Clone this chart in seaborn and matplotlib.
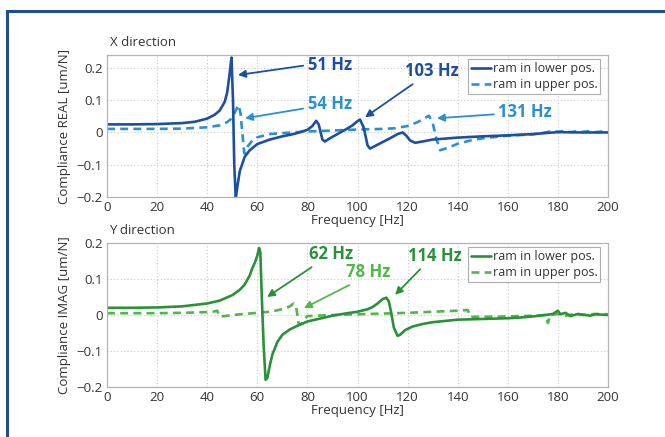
import matplotlib
matplotlib.use("Agg")
import matplotlib.pyplot as plt
import seaborn as sns
import pandas as pd
from matplotlib.patches import Rectangle
from matplotlib.lines import Line2D

# ---------------- data ----------------
x_lower_f = [0, 10, 20, 30, 35, 40, 43, 45, 47, 48, 49, 49.7, 50.3, 50.8, 51.4, 52, 53, 55, 57, 60,
             65, 70, 75, 80, 82, 83.5, 84.5, 86, 87, 89, 92, 95, 98, 100, 101, 102.5, 104, 105, 107,
             110, 113, 116, 118, 119.5, 121, 123, 126, 130, 140, 150, 160, 170, 175, 180, 190, 200]
x_lower_v = [0.025, 0.025, 0.026, 0.029, 0.033, 0.043, 0.055, 0.068, 0.095, 0.125, 0.185, 0.232, 0.10,
             -0.10, -0.205, -0.17, -0.12, -0.075, -0.055, -0.036, -0.022, -0.012, -0.004, 0.008, 0.020,
             0.036, 0.025, -0.022, -0.028, -0.018, -0.005, 0.008, 0.022, 0.035, 0.040, 0.015, -0.040,
             -0.050, -0.042, -0.030, -0.018, -0.005, 0.000, -0.010, -0.025, -0.032, -0.028, -0.022,
             -0.016, -0.012, -0.009, -0.005, -0.002, 0.001, 0.000, 0.000]

x_upper_f = [0, 20, 30, 40, 45, 48, 50, 51.5, 52.5, 53.3, 54, 54.8, 56, 58, 60, 65, 70, 80, 90, 100,
             110, 115, 120, 124, 127, 128.5, 130, 131.5, 133, 136, 140, 145, 150, 160, 170, 175, 178,
             180, 183, 185, 188, 190, 193, 195, 198, 200]
x_upper_v = [0.011, 0.011, 0.012, 0.016, 0.022, 0.032, 0.045, 0.070, 0.085, 0.060, 0.000, -0.065,
             -0.045, -0.025, -0.015, -0.005, -0.002, 0.003, 0.006, 0.009, 0.011, 0.013, 0.020, 0.032,
             0.045, 0.052, 0.030, -0.020, -0.055, -0.048, -0.035, -0.025, -0.018, -0.010, -0.006,
             0.000, 0.005, 0.002, 0.005, 0.001, 0.004, 0.002, 0.004, 0.001, 0.003, 0.002]

y_lower_f = [0, 10, 20, 30, 40, 45, 50, 53, 55, 57, 58, 59, 60, 60.7, 61.2, 61.8, 62.5, 63.3, 64, 65,
             66, 68, 70, 73, 76, 80, 85, 90, 95, 100, 104, 106, 108, 110, 111.5, 112.5, 113.5, 114.5,
             116, 117, 119, 122, 126, 130, 140, 150, 160, 165, 170, 175, 178, 180, 181, 183, 185, 188,
             190, 193, 195, 200]
y_lower_v = [0.020, 0.020, 0.021, 0.024, 0.032, 0.040, 0.055, 0.070, 0.085, 0.110, 0.130, 0.145, 0.165,
             0.186, 0.175, 0.050, -0.080, -0.180, -0.175, -0.140, -0.110, -0.075, -0.055, -0.040,
             -0.030, -0.018, -0.010, -0.002, 0.004, 0.009, 0.016, 0.022, 0.032, 0.044, 0.048, 0.038,
             0.005, -0.035, -0.058, -0.055, -0.042, -0.032, -0.025, -0.020, -0.013, -0.011, -0.009,
             -0.007, -0.004, 0.000, 0.003, 0.012, 0.002, 0.006, -0.003, 0.003, 0.001, -0.002, 0.002,
             0.000]

y_upper_f = [0, 20, 30, 40, 43, 44, 45, 47, 50, 55, 60, 65, 68, 71, 73, 74.5, 75.5, 76, 76.5, 78, 79,
             80, 90, 100, 120, 140, 144, 145, 150, 160, 170, 175, 176, 177, 180, 183, 186, 190, 195,
             200]
y_upper_v = [0.005, 0.005, 0.006, 0.008, 0.010, 0.012, -0.004, -0.003, 0.000, 0.003, 0.006, 0.009,
             0.013, 0.018, 0.024, 0.032, 0.022, 0.000, -0.025, -0.024, -0.010, -0.003, 0.000, 0.002,
             0.006, 0.012, 0.014, -0.005, -0.005, -0.004, -0.002, 0.000, -0.022, 0.000, 0.003, -0.002,
             0.002, 0.000, 0.003, 0.002]

x_ticks = [0, 20, 40, 60, 80, 100, 120, 140, 160, 180, 200]
y_ticks = [-0.2, -0.1, 0.0, 0.1, 0.2]
y_ticklabels = ["\u22120.2", "\u22120.1", "0", "0.1", "0.2"]
legend_labels = ["ram in lower pos.", "ram in upper pos."]

# ---------------- style ----------------
sns.set_style("white")
plt.rcParams["font.family"] = ["Open Sans", "DejaVu Sans"]

C_XL = "#1d4fa0"
C_XU = "#2a90d4"
C_YL = "#2b9138"
C_YU = "#4fb848"
TXT = "#333333"

fig = plt.figure(figsize=(6.65, 4.37), dpi=100)
W, H = 665, 437

# blue frame (only left and top visible)
fig.patches.append(Rectangle((7 / W, -0.2), 1.5, (H - 11) / H + 0.2, transform=fig.transFigure,
                             fill=False, edgecolor="#1f4f8f", linewidth=2.2, zorder=0))

def px_axes(l, t, r, b):
    return fig.add_axes([l / W, 1 - b / H, (r - l) / W, (b - t) / H])

ax1 = px_axes(107, 55, 608, 197)
ax2 = px_axes(107, 243, 608, 387)

def style(ax, ylim, ylabel, title):
    ax.set_xlim(0, 200)
    ax.set_ylim(*ylim)
    ax.set_xticks(x_ticks)
    ax.set_xticklabels([str(t) for t in x_ticks])
    ax.set_yticks(y_ticks)
    ax.set_yticklabels(y_ticklabels)
    ax.grid(True, linestyle=(0, (1, 2)), color="#c8c8c8", linewidth=0.8)
    ax.tick_params(direction="in", length=3, color="#b5b5b5", labelsize=9.5,
                   labelcolor=TXT, pad=3)
    for s in ax.spines.values():
        s.set_color("#b5b5b5")
        s.set_linewidth(0.9)
    ax.set_xlabel("Frequency [Hz]", fontsize=9.5, color=TXT, labelpad=0)
    ax.set_ylabel(ylabel, fontsize=9.5, color=TXT, labelpad=4)
    ax.text(0.005, 1.04, title, transform=ax.transAxes, fontsize=9.5, color=TXT,
            ha="left", va="bottom")

df_xl = pd.DataFrame({"f": x_lower_f, "v": x_lower_v})
df_xu = pd.DataFrame({"f": x_upper_f, "v": x_upper_v})
df_yl = pd.DataFrame({"f": y_lower_f, "v": y_lower_v})
df_yu = pd.DataFrame({"f": y_upper_f, "v": y_upper_v})

sns.lineplot(data=df_xu, x="f", y="v", ax=ax1, color=C_XU, linewidth=1.9,
             linestyle=(0, (3, 2)), sort=False)
sns.lineplot(data=df_xl, x="f", y="v", ax=ax1, color=C_XL, linewidth=1.9, sort=False)
sns.lineplot(data=df_yu, x="f", y="v", ax=ax2, color=C_YU, linewidth=1.9,
             linestyle=(0, (3, 2)), sort=False)
sns.lineplot(data=df_yl, x="f", y="v", ax=ax2, color=C_YL, linewidth=1.9, sort=False)

style(ax1, (-0.2, 0.24), "Compliance REAL [um/N]", "X direction")
style(ax2, (-0.2, 0.2), "Compliance IMAG [um/N]", "Y direction")

def leg(ax, cl, cu):
    handles = [Line2D([], [], color=cl, lw=1.9),
               Line2D([], [], color=cu, lw=1.9, linestyle=(0, (3, 2)))]
    lg = ax.legend(handles, legend_labels, loc="upper right", bbox_to_anchor=(0.985, 0.97),
                   fontsize=9, frameon=True, fancybox=False, handlelength=1.6,
                   handletextpad=0.15, borderpad=0.25, labelspacing=0.2, borderaxespad=0)
    lg.get_frame().set_edgecolor("#999999")
    lg.get_frame().set_linewidth(0.8)
    for t in lg.get_texts():
        t.set_color(TXT)

leg(ax1, C_XL, C_XU)
leg(ax2, C_YL, C_YU)

def ann(ax, label, xy, xytext, color, relpos):
    ax.annotate(label, xy=xy, xytext=xytext, ha="center", va="center", fontsize=12,
                fontweight="bold", color=color,
                arrowprops=dict(arrowstyle="-|>", color=color, lw=1.3, mutation_scale=11,
                                shrinkA=1, shrinkB=0, relpos=relpos))

ann(ax1, "51 Hz", (52.3, 0.178), (89, 0.209), C_XL, (0, 0.5))
ann(ax1, "54 Hz", (55.1, 0.044), (89, 0.0875), C_XU, (0, 0.3))
ann(ax1, "103 Hz", (103, 0.047), (129.7, 0.19), C_XL, (0.25, 0.0))
ann(ax1, "131 Hz", (131.7, 0.044), (167, 0.0625), C_XU, (0, 0.4))

ann(ax2, "62 Hz", (63.9, 0.05), (89.4, 0.169), C_YL, (0.2, 0.0))
ann(ax2, "78 Hz", (78.6, 0.019), (104.2, 0.119), C_YU, (0.25, 0.0))
ann(ax2, "114 Hz", (115, 0.056), (131, 0.164), C_YL, (0.3, 0.0))

fig.savefig("out.png", dpi=100)
